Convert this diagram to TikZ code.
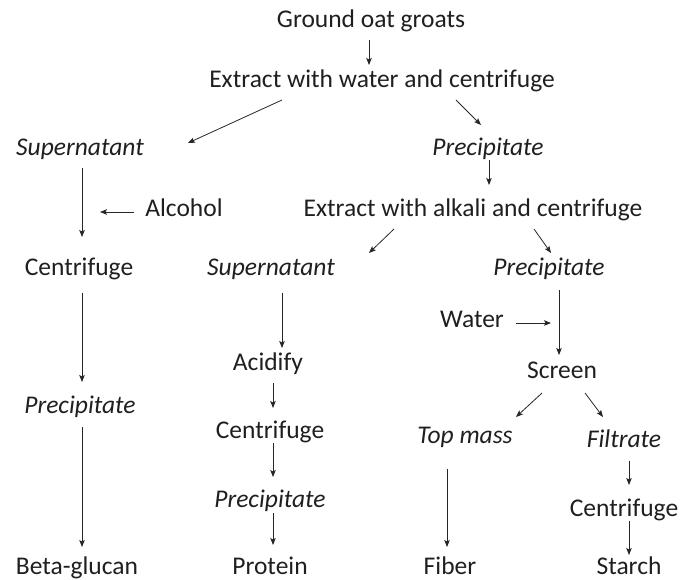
\documentclass[tikz,border=0pt]{standalone}
\usepackage{fontspec}
\setmainfont{Carlito}
\usetikzlibrary{arrows.meta}
\begin{document}
\begin{tikzpicture}[x=1pt,y=-1pt,
 lbl/.style={anchor=base, inner sep=0pt, font=\fontsize{25.5}{30}\selectfont, text=black!88},
 it/.style={lbl, font=\fontsize{25.5}{30}\selectfont\itshape},
 arr/.style={draw=black!85, line width=0.8pt, -{Stealth[length=7pt,width=5.5pt,inset=1.5pt]}}]
\useasboundingbox (0,0) rectangle (684,579);
% nodes
\node[lbl] (g1) at (371,27) {Ground oat groats};
\node[lbl] (e1) at (382,87) {Extract with water and centrifuge};
\node[it]  (s1) at (80,155) {Supernatant};
\node[it]  (p1) at (488,155) {Precipitate};
\node[lbl] (al) at (184,216) {Alcohol};
\node[lbl] (e2) at (473,216) {Extract with alkali and centrifuge};
\node[lbl] (c1) at (79,275) {Centrifuge};
\node[it]  (s2) at (271,275) {Supernatant};
\node[it]  (p2) at (549,275) {Precipitate};
\node[lbl] (wa) at (472,327) {Water};
\node[lbl] (ac) at (268,370) {Acidify};
\node[lbl] (sc) at (562,378) {Screen};
\node[it]  (p3) at (80,413) {Precipitate};
\node[lbl] (c2) at (270,438) {Centrifuge};
\node[it]  (tm) at (465,443) {Top mass};
\node[it]  (fi) at (624,447) {Filtrate};
\node[it]  (p4) at (270,507) {Precipitate};
\node[lbl] (c3) at (624,516) {Centrifuge};
\node[lbl] (bg) at (77,574) {Beta-glucan};
\node[lbl] (pr) at (270,574) {Protein};
\node[lbl] (fb) at (450,574) {Fiber};
\node[lbl] (st) at (629,574) {Starch};
% connector ends
\coordinate (g1b) at (369,40);  \coordinate (e1t) at (369,65);
\coordinate (e1l) at (282,100); \coordinate (s1t) at (188,143);
\coordinate (e1r) at (456,100); \coordinate (p1t) at (481,125);
\coordinate (p1b) at (489,160); \coordinate (e2t) at (489,185);
\coordinate (s1b) at (82,168);  \coordinate (c1t) at (82,237);
\coordinate (alw) at (134,212); \coordinate (alt) at (100,212);
\coordinate (e2l) at (394,229); \coordinate (s2t) at (369,253);
\coordinate (e2r) at (534,229); \coordinate (p2t) at (551,253);
\coordinate (c1b) at (82,293);  \coordinate (p3t) at (82,382);
\coordinate (p3b) at (82,427);  \coordinate (bgt) at (82,547);
\coordinate (s2b) at (282,293); \coordinate (act) at (282,348);
\coordinate (p2b) at (559,290); \coordinate (sct) at (559,355);
\coordinate (wae) at (516,323); \coordinate (wat) at (551,323);
\coordinate (acb) at (273,383); \coordinate (c2t) at (273,408);
\coordinate (scl) at (542,393); \coordinate (tmt) at (516,417);
\coordinate (scr) at (585,393); \coordinate (fit) at (603,417);
\coordinate (c2b) at (273,443); \coordinate (p4t) at (273,477);
\coordinate (tmb) at (447,469); \coordinate (fbt) at (447,547);
\coordinate (fib) at (629,461); \coordinate (c3t) at (629,485);
\coordinate (p4b) at (273,513); \coordinate (prt) at (273,545);
\coordinate (c3b) at (629,521); \coordinate (stt) at (629,555);
% connectors
\draw[arr] (g1b) -- (e1t);
\draw[arr] (e1l) -- (s1t);
\draw[arr] (e1r) -- (p1t);
\draw[arr] (p1b) -- (e2t);
\draw[arr] (s1b) -- (c1t);
\draw[arr] (alw) -- (alt);
\draw[arr] (e2l) -- (s2t);
\draw[arr] (e2r) -- (p2t);
\draw[arr] (c1b) -- (p3t);
\draw[arr] (p3b) -- (bgt);
\draw[arr] (s2b) -- (act);
\draw[arr] (p2b) -- (sct);
\draw[arr] (wae) -- (wat);
\draw[arr] (acb) -- (c2t);
\draw[arr] (scl) -- (tmt);
\draw[arr] (scr) -- (fit);
\draw[arr] (c2b) -- (p4t);
\draw[arr] (tmb) -- (fbt);
\draw[arr] (fib) -- (c3t);
\draw[arr] (p4b) -- (prt);
\draw[arr] (c3b) -- (stt);
\end{tikzpicture}
\end{document}
